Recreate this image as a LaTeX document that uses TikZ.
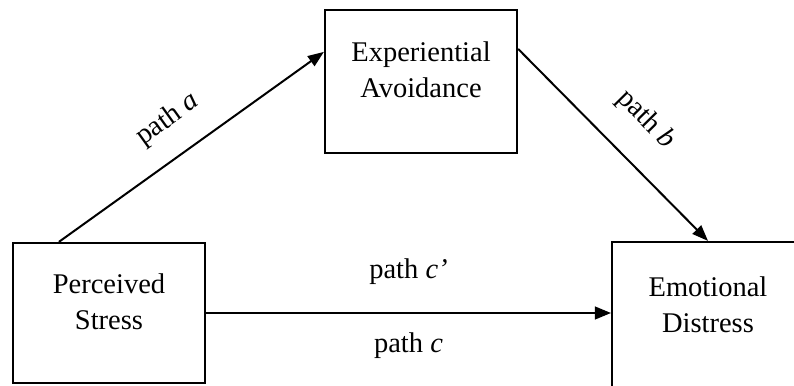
\documentclass[tikz,border=0pt]{standalone}
\usepackage{fontspec}
\setmainfont{Liberation Serif}
\usetikzlibrary{positioning,arrows.meta,calc}

\begin{document}
\begin{tikzpicture}[
  x=1pt, y=1pt,
  font=\fontsize{28.5}{36}\selectfont,
  box/.style={draw=black, line width=2.2pt, minimum width=192pt, inner sep=0pt},
  boxtxt/.style={align=center, inner sep=0pt},
  arr/.style={-{Triangle[length=16pt,width=12pt]}, line width=2pt},
  harr/.style={-{Triangle[length=16pt,width=13pt]}, line width=1.2pt},
  lbl/.style={inner sep=0pt}
]
\useasboundingbox (0,0) rectangle (794,385);

% ---- variables ----
\node[box, minimum height=140pt] (stress)   at (109,72)    {};
\node[box, minimum height=143pt] (avoid)    at (421,303.5) {};
\node[box, minimum height=146pt] (distress) at (708,70)    {};

\node[boxtxt, yshift=11pt]   (stresstxt)   at (stress.center)   {Perceived\\Stress};
\node[boxtxt, yshift=11.5pt] (avoidtxt)    at (avoid.center)    {Experiential\\Avoidance};
\node[boxtxt, yshift=10.5pt] (distresstxt) at (distress.center) {Emotional\\Distress};

% ---- arrow ends ----
\coordinate (astart) at ($(stress.north west)+(47,0)$);
\coordinate (aend)   at ($(avoid.north west)+(0,-43)$);
\coordinate (bstart) at ($(avoid.north east)+(0,-40)$);

% ---- paths ----
\draw[arr] (astart) -- (aend)
  node[lbl, sloped, pos=0.49, above=22pt] (patha) {path \textit{a}};
\draw[arr] (bstart) -- (distress.north)
  node[lbl, sloped, pos=0.52, above=27pt] (pathb) {path \textit{b}};
\draw[harr] (stress.east) -- (stress.east -| distress.west)
  node[lbl, midway, above=27.5pt] (pathcp) {path \textit{c’}}
  node[lbl, midway, below=19.5pt] (pathc) {path \textit{c}};
\end{tikzpicture}
\end{document}
